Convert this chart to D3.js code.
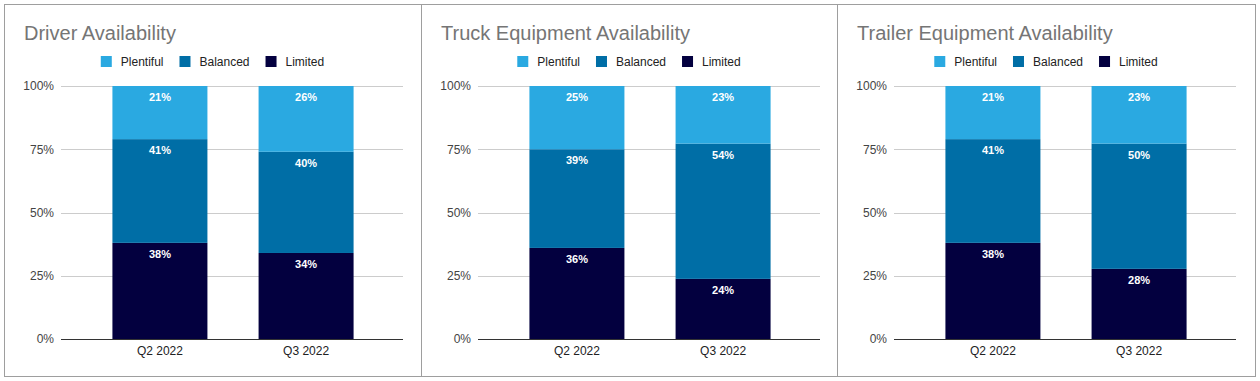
<!DOCTYPE html>
<html lang="en">
<head>
  <meta charset="UTF-8">
  <title>Availability Charts</title>
  <style>
    body { margin: 0; background: #fff; font-family: "Liberation Sans", Arial, sans-serif; }
    .tick text { font-size: 12px; fill: #444; }
  </style>
</head>
<body>
<svg id="chart" width="1260" height="381"></svg>
<script src="https://d3js.org/d3.v7.min.js"></script>
<script>
  // data
  const titles = ['Driver Availability', 'Truck Equipment Availability', 'Trailer Equipment Availability'];
  const quarters = ['Q2 2022', 'Q3 2022'];
  const seriesNames = ['Limited', 'Balanced', 'Plentiful'];
  const limited = [[38, 34], [36, 24], [38, 28]];
  const balanced = [[41, 40], [39, 54], [41, 50]];
  const plentiful = [[21, 26], [25, 23], [21, 23]];
  const yTicks = [0, 0.25, 0.5, 0.75, 1];

  const colors = { Plentiful: '#2aa9e1', Balanced: '#006ea6', Limited: '#03003f' };
  const legendOrder = ['Plentiful', 'Balanced', 'Limited'];

  const svg = d3.select('#chart');
  const panelX = [4, 421, 837, 1255];
  const panelTop = 4, panelBottom = 376;

  titles.forEach((title, i) => {
    const x0 = panelX[i], x1 = panelX[i + 1];
    const g = svg.append('g');

    // panel border
    g.append('rect')
      .attr('x', x0 + 0.5).attr('y', panelTop + 0.5)
      .attr('width', x1 - x0).attr('height', panelBottom - panelTop)
      .attr('fill', 'none').attr('stroke', '#9e9e9e');

    g.append('text')
      .attr('x', x0 + 20).attr('y', 40)
      .attr('font-size', 20).attr('fill', '#757575')
      .text(title);

    // scales
    const x = d3.scaleBand().domain(quarters)
      .range([x0 + 58, x0 + 400]).paddingInner(0.35).paddingOuter(0.345);
    const y = d3.scaleLinear().domain([0, 1]).range([339, 86]);

    // gridlines
    g.append('g').selectAll('line').data(yTicks.slice(1)).join('line')
      .attr('x1', x0 + 57).attr('x2', x0 + 399)
      .attr('y1', d => Math.round(y(d)) + 0.5).attr('y2', d => Math.round(y(d)) + 0.5)
      .attr('stroke', '#ccc');

    // y axis labels
    const yAxis = g.append('g')
      .attr('transform', `translate(${x0 + 53},0)`)
      .call(d3.axisLeft(y).tickValues(yTicks).tickFormat(d3.format('.0%')).tickSize(0));
    yAxis.select('.domain').remove();
    yAxis.selectAll('text').attr('font-family', 'Liberation Sans, Arial, sans-serif').attr('dx', 0);

    // stacked data
    const rows = quarters.map((q, j) => {
      const total = limited[i][j] + balanced[i][j] + plentiful[i][j];
      return { q, Limited: limited[i][j] / total, Balanced: balanced[i][j] / total, Plentiful: plentiful[i][j] / total,
        raw: { Limited: limited[i][j], Balanced: balanced[i][j], Plentiful: plentiful[i][j] } };
    });
    const stack = d3.stack().keys(seriesNames)(rows);

    stack.forEach(layer => {
      const key = layer.key;
      g.append('g').selectAll('rect').data(layer).join('rect')
        .attr('x', d => x(d.data.q))
        .attr('width', x.bandwidth())
        .attr('y', d => y(d[1]))
        .attr('height', d => y(d[0]) - y(d[1]))
        .attr('fill', colors[key]);

      g.append('g').selectAll('text').data(layer).join('text')
        .attr('x', d => x(d.data.q) + x.bandwidth() / 2)
        .attr('y', d => y(d[1]) + 15)
        .attr('text-anchor', 'middle')
        .attr('font-size', 11).attr('font-weight', 'bold').attr('fill', '#fff')
        .text(d => d.data.raw[key] + '%');
    });

    // baseline
    g.append('line')
      .attr('x1', x0 + 57).attr('x2', x0 + 399)
      .attr('y1', 339.5).attr('y2', 339.5)
      .attr('stroke', '#333');

    // x axis labels
    g.append('g').selectAll('text').data(quarters).join('text')
      .attr('x', d => x(d) + x.bandwidth() / 2)
      .attr('y', 355)
      .attr('text-anchor', 'middle')
      .attr('font-size', 12).attr('fill', '#222')
      .text(d => d);

    // legend, centred in panel
    const legend = g.append('g');
    let lx = 0;
    legendOrder.forEach(name => {
      const item = legend.append('g').attr('transform', `translate(${lx},0)`);
      item.append('rect').attr('x', 0).attr('y', 56).attr('width', 11).attr('height', 11)
        .attr('fill', colors[name]);
      const t = item.append('text').attr('x', 20).attr('y', 66)
        .attr('font-size', 12).attr('fill', '#222').text(name);
      lx += 20 + t.node().getComputedTextLength() + 16;
    });
    const lw = lx - 16;
    legend.attr('transform', `translate(${(x0 + x1) / 2 - lw / 2},0)`);
  });
</script>
</body>
</html>
